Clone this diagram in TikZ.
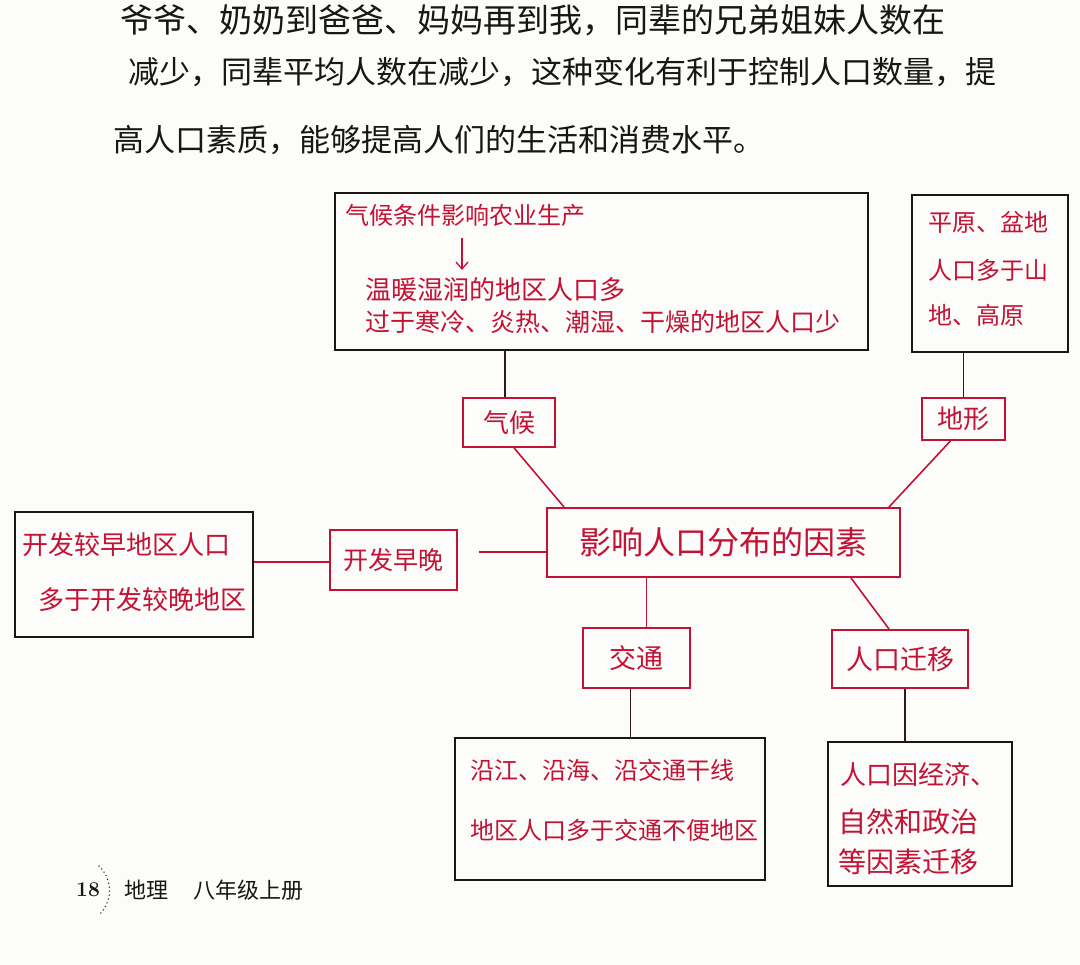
\documentclass[tikz,border=0pt]{standalone}
\usepackage{fontspec}
\newfontfamily\cjk{Noto Sans CJK SC}
\usetikzlibrary{calc,arrows.meta}
\definecolor{ink}{RGB}{196,18,52}
\definecolor{pen}{RGB}{25,22,22}
\definecolor{paper}{RGB}{252,252,250}
\newcommand\fsz[1]{\fontsize{#1pt}{#1pt}\selectfont}
\begin{document}
\begin{tikzpicture}[x=1pt,y=-1pt,
  blackbox/.style={draw=pen,line width=2.2pt,inner sep=0pt},
  redbox/.style={draw=ink,line width=1.8pt,inner sep=0pt,text=ink,font=\cjk\fsz{26}},
  hand/.style={text=ink,inner sep=0pt,anchor=west,font=\cjk\fsz{#1}},
  hand/.default=25,
  print/.style={text=pen,inner sep=0pt,anchor=west,font=\cjk\fsz{#1}},
  print/.default=32,
  redline/.style={draw=ink,line width=1.6pt},
  darkline/.style={draw=pen!85!ink,line width=1.8pt}
]
\fill[paper] (0,0) rectangle (1080,965);
\useasboundingbox (0,0) rectangle (1080,965);

% top paragraph
\node[print=33] (p1) at (120,20) {爷爷、奶奶到爸爸、妈妈再到我，同辈的兄弟姐妹人数在};
\node[print=31] (p2) at (128,72) {减少，同辈平均人数在减少，这种变化有利于控制人口数量，提};
\node[print=31] (p3) at (113,140) {高人口素质，能够提高人们的生活和消费水平。};

% boxes
\node[blackbox,minimum width=533pt,minimum height=157pt] (clim) at (601.5,271.5) {};
\node[blackbox,minimum width=156pt,minimum height=157pt] (terr) at (990,273.5) {};
\node[redbox,minimum width=92pt,minimum height=49pt] (qh) at (509,422.5) {气候};
\node[redbox,minimum width=83pt,minimum height=42pt] (dx) at (963.5,419) {地形};
\node[redbox,minimum width=353pt,minimum height=69pt,font=\cjk\fsz{32}] (main) at (723.5,542.5) {影响人口分布的因素};
\node[redbox,minimum width=127pt,minimum height=60pt,font=\cjk\fsz{25}] (kf) at (393.5,560) {开发早晚};
\node[blackbox,minimum width=238pt,minimum height=125pt] (left) at (134,574.5) {};
\node[redbox,minimum width=107pt,minimum height=60pt,font=\cjk\fsz{27}] (jt) at (636.5,658) {交通};
\node[redbox,minimum width=136pt,minimum height=58pt,font=\cjk\fsz{27}] (qy) at (900,659) {人口迁移};
\node[blackbox,minimum width=310pt,minimum height=142pt] (tbox) at (610,809) {};
\node[blackbox,minimum width=184pt,minimum height=144pt] (mbox) at (920,814) {};

% climate box text
\node[hand=24] (c1) at (345,215) {气候条件影响农业生产};
\node[hand=26] (c2) at (365,290) {温暖湿润的地区人口多};
\node[hand=25] (c3) at (365,322) {过于寒冷、炎热、潮湿、干燥的地区人口少};
\coordinate (ar1) at (462,238);
\coordinate (ar2) at (462,270);
\draw[redline,line width=1.3pt,-{Straight Barb[length=7pt,width=12pt]}] (ar1) -- (ar2);

% terrain box text
\node[hand=24] (t1) at (928,222) {平原、盆地};
\node[hand=24] (t2) at (928,270) {人口多于山};
\node[hand=24] (t3) at (928,315) {地、高原};

% left box text
\node[hand=26] (l1) at (22,545) {开发较早地区人口};
\node[hand=26] (l2) at (38,600) {多于开发较晚地区};

% traffic box text
\node[hand=24] (j1) at (470,770) {沿江、沿海、沿交通干线};
\node[hand=24] (j2) at (470,830) {地区人口多于交通不便地区};

% migration box text
\node[hand=26] (m1) at (840,775) {人口因经济、};
\node[hand=28] (m2) at (838,822) {自然和政治};
\node[hand=28] (m3) at (838,862) {等因素迁移};

% connectors
\draw[darkline,line width=1.5pt] ([xshift=-4pt]qh.north |- clim.south) -- ([xshift=-4pt]qh.north);
\draw[redline] ([xshift=5pt]qh.south) -- ([xshift=18pt]main.north west);
\draw[darkline,line width=1.5pt] (dx.north |- terr.south) -- (dx.north);
\draw[redline] ([xshift=-13pt]dx.south) -- ([xshift=-12pt]main.north east);
\draw[redline] ([xshift=21pt,yshift=8pt]kf.east) -- ([yshift=-9.5pt]main.west);
\draw[redline] ([yshift=12.5pt]left.east) -- ([yshift=-2pt]kf.west);
\draw[redline] ([xshift=10pt]jt.north |- main.south) -- ([xshift=10pt]jt.north);
\draw[darkline] ([xshift=-6pt]jt.south) -- ([xshift=-6pt]jt.south |- tbox.north);
\draw[redline] ([xshift=-50pt]main.south east) -- ([xshift=58pt]qy.north west);
\draw[darkline] ([xshift=5pt]qy.south) -- ([xshift=5pt]qy.south |- mbox.north);

% footer
\node[text=pen,inner sep=0pt,font=\rmfamily\bfseries\fsz{21}] (pg) at (88,890) {18};
\coordinate (d1) at (99,866);
\coordinate (d2) at (99,915);
\draw[pen,line width=1.5pt,dash pattern=on 0pt off 4pt,line cap=round] (d1) .. controls (113,880) and (113,901) .. (d2);
\node[print=22] (f1) at (124,890) {地理};
\node[print=22] (f2) at (193,890) {八年级上册};
\end{tikzpicture}
\end{document}
